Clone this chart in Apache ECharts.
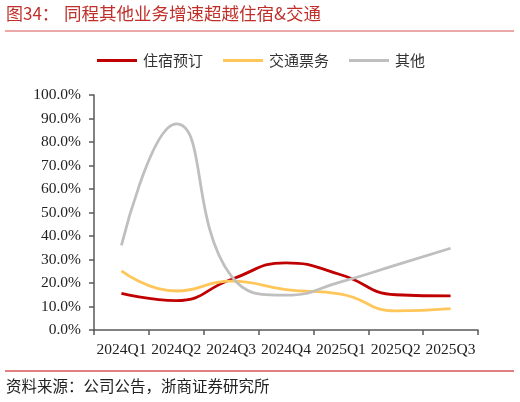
<!DOCTYPE html>
<html><head><meta charset="utf-8">
<script src="https://cdn.jsdelivr.net/npm/echarts@6/dist/echarts.min.js"></script>
<style>html,body{margin:0;padding:0;background:#fff}#c{width:520px;height:402px}</style>
</head><body><div id="c"></div>
<script>
const categories = ['2024Q1','2024Q2','2024Q3','2024Q4','2025Q1','2025Q2','2025Q3'];
const hotel = [15.6, 12.5, 21.5, 28.6, 23.5, 15.0, 14.5];
const transport = [25.2, 16.6, 20.8, 17.2, 15.3, 8.1, 9.1];
const other = [36.0, 87.7, 23.0, 14.8, 20.5, 27.6, 34.8];
const yTicks = [0,10,20,30,40,50,60,70,80,90,100];

const serif = '"Liberation Serif","DejaVu Serif",serif';
const cjk = '"Noto Sans CJK SC",sans-serif';
const chart = echarts.init(document.getElementById('c'));
chart.setOption({
  animation:false,
  color:['#C00000','#FFC65A','#BFBFBF'],
  graphic:[
    {type:'text',left:6,top:5,style:{text:'图34：',fill:'#C0302B',font:'17px '+cjk}},
    {type:'text',left:64,top:5,style:{text:'同程其他业务增速超越住宿&交通',fill:'#C0302B',font:'17.5px '+cjk}},
    {type:'line',shape:{x1:5,y1:31,x2:514,y2:31},style:{stroke:'#D9534F',lineWidth:1}},
    {type:'line',shape:{x1:5,y1:371,x2:514,y2:371},style:{stroke:'#C00000',lineWidth:1}},
    {type:'text',left:6,top:378,style:{text:'资料来源：公司公告，浙商证券研究所',fill:'#222',font:'15.5px '+cjk}}
  ],
  legend:{top:48,left:92,itemWidth:40,itemHeight:3,itemGap:20,icon:'rect',
    textStyle:{fontFamily:cjk,fontSize:15,color:'#333',padding:[0,0,0,1]},
    data:['住宿预订','交通票务','其他']},
  grid:{left:94,right:42,top:95,bottom:72},
  xAxis:{type:'category',data:categories,boundaryGap:true,
    axisLine:{lineStyle:{color:'#595959',width:1.5}},
    axisTick:{show:true,length:5,alignWithLabel:false,lineStyle:{color:'#595959',width:1.5}},
    axisLabel:{fontFamily:serif,fontSize:15.5,color:'#222',margin:12,interval:0}},
  yAxis:{type:'value',min:0,max:100,interval:10,
    axisLine:{show:true,lineStyle:{color:'#595959',width:1.5}},
    axisTick:{show:true,length:5,inside:false,lineStyle:{color:'#595959',width:1.5}},
    splitLine:{show:false},
    axisLabel:{fontFamily:serif,fontSize:15.5,color:'#222',margin:13,
      formatter:v=>yTicks.includes(v)?v.toFixed(1)+'%':''}},
  series:[
    {name:'住宿预订',type:'line',data:hotel,smooth:0.5,symbol:'none',lineStyle:{width:2.8,color:'#C00000'}},
    {name:'交通票务',type:'line',data:transport,smooth:0.5,symbol:'none',lineStyle:{width:2.8,color:'#FFC65A'}},
    {name:'其他',type:'line',data:other,smooth:0.5,symbol:'none',lineStyle:{width:2.8,color:'#BFBFBF'}}
  ]
});
</script></body></html>
